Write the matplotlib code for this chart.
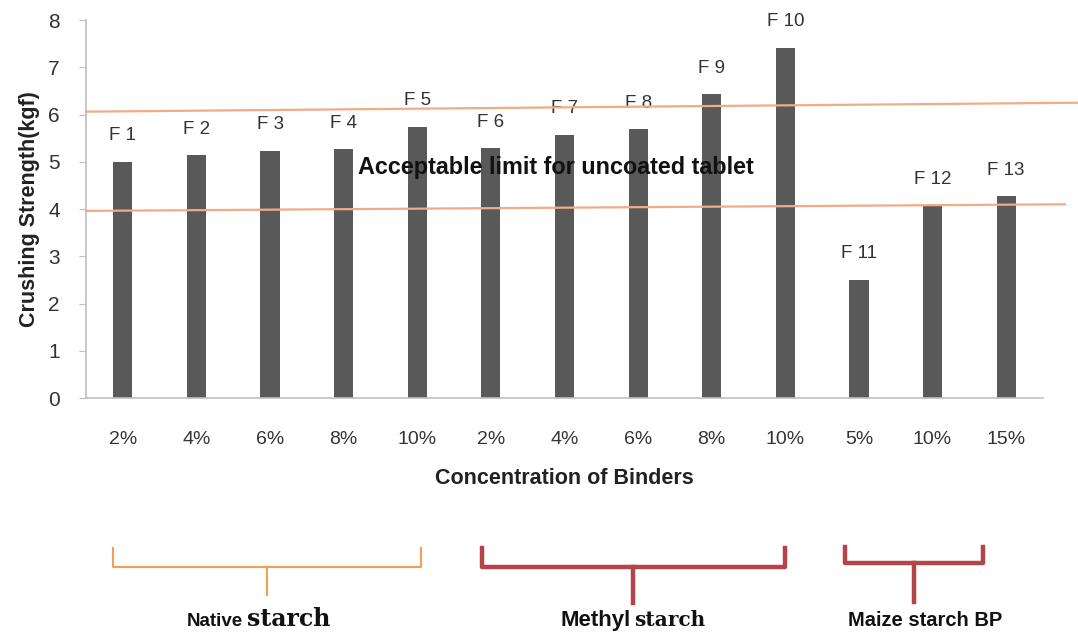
import numpy as np
import matplotlib.pyplot as plt
import matplotlib.transforms as mtransforms

formulations = ['F 1', 'F 2', 'F 3', 'F 4', 'F 5', 'F 6', 'F 7', 'F 8', 'F 9',
                'F 10', 'F 11', 'F 12', 'F 13']
concentrations = ['2%', '4%', '6%', '8%', '10%', '2%', '4%', '6%', '8%', '10%',
                  '5%', '10%', '15%']
strength = [5.0, 5.14, 5.23, 5.27, 5.74, 5.29, 5.57, 5.69, 6.43, 7.41, 2.5, 4.08, 4.27]

# limits for uncoated tablets (slightly slanted in the original sketch)
upper_limit = [6.06, 6.25]
lower_limit = [3.96, 4.1]

groups = ['Native', 'Methyl', 'Maize starch BP']
group_spans = [(-0.14, 4.05), (4.88, 8.99), (9.81, 11.68)]

fig = plt.figure(figsize=(10.78, 6.33), dpi=100)
ax = fig.add_axes([0.0798, 0.3712, 0.8877, 0.5972])

x = np.arange(len(strength))
ax.bar(x, strength, width=0.26, color='#595959', zorder=2)

for xi, v, name in zip(x, strength, formulations):
    ax.text(xi, v + 0.55, name, ha='center', va='center', fontsize=13.5,
            color='#333333', family='Liberation Sans')

ax.plot([-0.5, 13.0], upper_limit, color='#f3aa85', lw=1.6, clip_on=False, zorder=3)
ax.plot([-0.5, 12.8], lower_limit, color='#f3aa85', lw=1.6, clip_on=False, zorder=3)
ax.text(5.88, 4.87, 'Acceptable limit for uncoated tablet', ha='center', va='center',
        fontsize=16.8, fontweight='bold', color='#111111', family='Liberation Sans', zorder=4)

ax.set_xlim(-0.5, 12.5)
ax.set_ylim(0, 8)
ax.set_xticks(x)
ax.set_xticklabels(concentrations, fontsize=14, family='Liberation Sans', color='#333333')
ax.set_yticks(range(0, 9))
ax.set_yticklabels([str(i) for i in range(0, 9)], fontsize=15, family='Liberation Sans',
                   color='#333333')
ax.tick_params(axis='x', length=0, pad=24)
ax.tick_params(axis='y', length=5, color='#bfbfbf', pad=14)
for side in ['top', 'right']:
    ax.spines[side].set_visible(False)
for side in ['left', 'bottom']:
    ax.spines[side].set_color('#bfbfbf')
    ax.spines[side].set_linewidth(1.2)

ax.set_xlabel('Concentration of Binders', fontsize=15.5, fontweight='bold',
              family='Liberation Sans', labelpad=14, color='#222222')
ax.set_ylabel('Crushing Strength(kgf)', fontsize=15.5, fontweight='bold',
              family='Liberation Sans', labelpad=6, color='#222222')

# brackets that group the formulations by binder
trans = mtransforms.blended_transform_factory(ax.transData, fig.transFigure)
bracket_colors = ['#f0a050', '#b5444a', '#b5444a']
bracket_widths = [1.5, 3.2, 3.2]
bracket_tops = [548, 548, 547]
bracket_bars = [567, 567, 563]
bracket_stems = [595, 603, 602]
for (x0, x1), col, lw, t, b, s in zip(group_spans, bracket_colors, bracket_widths,
                                      bracket_tops, bracket_bars, bracket_stems):
    xm = (x0 + x1) / 2
    yt, yb, ys = 1 - t / 633, 1 - b / 633, 1 - s / 633
    ax.plot([x0, x0, x1, x1], [yt, yb, yb, yt], color=col, lw=lw,
            transform=trans, clip_on=False, solid_joinstyle='round')
    ax.plot([xm, xm], [yb, ys], color=col, lw=lw, transform=trans, clip_on=False)

# group names: sans word followed by a serif "starch"
y_label = 1 - 626 / 633
mid = [(a + b) / 2 for a, b in group_spans]
word_sizes = [13.5, 16]
serif_sizes = [17, 14.5]
word_shift = [-0.32, -0.04]
for i, g in enumerate(groups[:2]):
    ax.text(mid[i] + word_shift[i], y_label, g, transform=trans, ha='right',
            va='baseline', fontsize=word_sizes[i], fontweight='bold',
            family='Liberation Sans', color='#111111')
    ax.text(mid[i] + word_shift[i] + 0.05, y_label, 'starch', transform=trans,
            ha='left', va='baseline', fontsize=serif_sizes[i], fontweight='bold',
            family='DejaVu Serif', color='#111111')
ax.text(mid[2] + 0.15, y_label, groups[2], transform=trans, ha='center', va='baseline',
        fontsize=14.5, fontweight='bold', family='Liberation Sans', color='#111111')

fig.savefig('out.png', dpi=100)
